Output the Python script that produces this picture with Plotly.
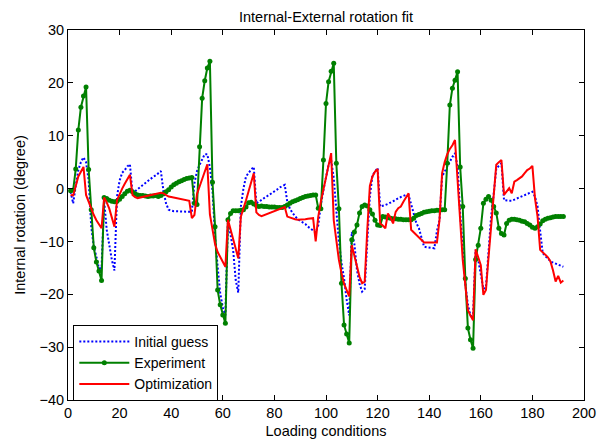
import plotly.graph_objects as go

loading = list(range(1, 193))

initial_guess = [
    -0.6, -2.8, 0.5, 3.5, 5.0, 5.9, 5.0, 1.6, -7.2, -11.0,
    -12.9, -15.1, -15.0, -2.2, -7.8, -11.0, -13.5, -15.5, -1.5, 1.5,
    3.0, 3.5, 4.2, 4.6, -0.9, -0.5, -0.1, 0.2, 0.6, 1.0,
    1.4, 1.8, 2.2, 2.5, 2.9, 3.3, -0.5, -2.8, -4.0, -4.2,
    -4.3, -4.3, -4.3, -4.3, -4.3, -4.4, -4.4, -4.4,
    1.0, 3.3, 4.5, 5.5, 6.5, 6.5, 4.0, -0.3, -9.1, -14.8,
    -19.8, -22.5, -24.0, -5.9, -9.0, -11.6, -17.3, -19.7, -3.4, 0.0,
    2.3, 3.0, 3.6, 4.1, -2.8, -2.5, -2.1, -1.8, -1.5, -1.2,
    -0.8, -0.5, -0.2, 0.2, 0.5, 0.7, -2.5, -3.8, -4.6, -5.3,
    -5.8, -6.1, -6.4, -6.7, -7.2, -7.6, -8.0, -8.3,
    -7.0, -3.0, -0.3, 2.3, 4.5, 5.4, 2.0, -4.1, -10.0, -14.0,
    -17.0, -21.0, -24.0, -8.2, -10.5, -15.4, -18.0, -19.5, -19.0, -10.0,
    -1.5, 2.5, 3.2, 3.9, -3.4, -3.3, -3.1, -2.9, -2.7, -2.4,
    -2.1, -1.8, -1.6, -1.4, -1.2, -1.2, -3.0, -4.5, -6.5, -7.5,
    -9.5, -11.0, -11.1, -11.2, -11.3, -11.3, -8.0, -5.9,
    2.3, 3.3, 4.1, 5.2, 6.0, 6.7, 4.1, -4.7, -12.0, -18.0,
    -22.0, -24.0, -24.5, -11.6, -13.5, -16.0, -19.0, -18.6, -12.0, -5.3,
    -1.0, 3.8, 4.3, 4.8, -2.2, -2.3, -2.3, -2.3, -2.1, -1.9,
    -1.7, -1.5, -1.3, -1.1, -0.9, -0.6, -1.5, -3.4, -8.0, -12.2,
    -12.8, -13.2, -13.8, -14.0, -14.2, -14.4, -14.6, -14.8,
]

experiment = [
    -0.4, -0.3, 3.7, 11.1, 15.4, 17.5, 19.2, 3.6, -4.0, -11.2,
    -13.9, -15.6, -17.4, -1.7, -1.9, -2.2, -2.4, -2.5, -2.4, -2.0,
    -1.5, -1.0, -0.5, -0.3, -0.6, -1.0, -1.2, -1.3, -1.3, -1.4,
    -1.5, -1.4, -1.4, -1.3, -1.5, -1.3, -1.0, -0.6, -0.2, 0.3,
    0.7, 1.0, 1.3, 1.5, 1.7, 1.9, 2.0, 2.1,
    -2.8, -3.0, 7.9, 17.1, 20.4, 22.8, 24.1, 1.2, -7.2, -19.2,
    -22.0, -23.9, -25.5, -5.9, -4.7, -4.2, -4.2, -4.2, -4.1, -4.0,
    -3.5, -2.7, -2.6, -2.9, -3.2, -3.4, -3.3, -3.4, -3.4, -3.5,
    -3.5, -3.5, -3.6, -3.6, -3.6, -3.4, -3.1, -2.8, -2.5, -2.3,
    -2.1, -1.9, -1.7, -1.5, -1.4, -1.3, -1.2, -1.2,
    -3.7, -3.8, 5.4, 16.1, 20.2, 22.2, 23.7, 4.8, -3.8, -17.9,
    -25.8, -27.5, -29.2, -9.7, -8.2, -6.9, -4.6, -3.4, -3.1, -3.3,
    -4.0, -4.8, -6.0, -6.9, -7.0, -5.3, -5.4, -5.5, -5.6, -5.7,
    -5.7, -5.8, -5.8, -5.9, -5.9, -5.9, -5.9, -5.6, -5.1, -4.9,
    -4.7, -4.5, -4.4, -4.3, -4.2, -4.2, -4.1, -4.1,
    -4.0, -4.0, 4.8, 15.8, 19.0, 20.5, 22.1, 4.1, -3.4, -17.0,
    -26.4, -28.6, -30.2, -13.4, -10.7, -7.5, -2.8, -2.0, -1.5, -2.2,
    -3.4, -4.6, -7.5, -8.5, -8.8, -6.6, -6.0, -5.8, -5.8, -5.9,
    -6.0, -6.2, -6.3, -6.6, -6.9, -7.3, -7.5, -7.2, -6.7, -6.1,
    -5.8, -5.6, -5.5, -5.4, -5.3, -5.3, -5.3, -5.3,
]

optimization = [
    -1.2, -1.3, 0.5, 2.3, 3.2, 4.1, -1.2, -2.5, -4.0, -5.0,
    -6.0, -6.8, -7.5, -1.7, -2.6, -3.8, -5.3, -7.2, -2.2, -1.0,
    0.0, 0.9, 1.8, 2.6, -1.2, -1.6, -1.8, -1.7, -1.6, -1.5,
    -1.4, -1.3, -1.2, -1.1, -1.0, -0.8, -0.9, -1.2, -1.5, -1.6,
    -1.7, -1.8, -1.9, -2.0, -2.1, -2.2, -2.3, -5.6,
    -5.0, -1.0, 0.4, 1.8, 2.8, 4.6, -4.9, -8.0, -10.5, -12.0,
    -12.9, -14.0, -14.8, -5.9, -7.8, -9.5, -11.3, -13.2, -5.3, -3.5,
    -2.2, -0.5, 1.2, 2.9, -4.5, -5.0, -5.2, -5.0, -4.8, -4.6,
    -4.4, -4.2, -4.0, -3.8, -3.6, -3.5, -5.3, -5.5, -5.7, -5.8,
    -5.9, -5.9, -5.8, -5.8, -5.7, -5.7, -5.6, -10.0,
    -5.3, -2.5, -0.3, 2.3, 4.5, 6.7, -6.0, -10.0, -13.5, -16.0,
    -18.0, -19.2, -20.4, -10.7, -12.9, -14.8, -16.7, -17.9, -17.6, -7.8,
    0.5, 2.3, 3.2, 3.7, -6.6, -7.0, -7.5, -4.7, -5.5, -6.6,
    -4.4, -3.7, -3.4, -2.5, -1.7, -0.9, -7.8, -8.3, -8.8, -9.3,
    -9.8, -10.2, -10.2, -10.2, -10.2, -10.2, -10.2, -5.9,
    2.9, 5.0, 6.5, 7.5, 8.2, 9.2, 0.4, -6.0, -13.5, -19.0,
    -23.0, -24.0, -24.9, -11.5, -13.0, -14.5, -20.1, -19.2, -13.0, -7.2,
    -2.0, 4.5, 5.0, 5.4, -1.2, -0.5, 0.1, -0.9, 1.3, 1.6,
    1.9, 2.3, 2.9, 3.5, 3.8, 4.3, -1.8, -5.3, -11.6, -12.0,
    -12.5, -13.0, -13.8, -15.5, -17.6, -16.5, -17.8, -17.4,
]

x_ticks = [0, 20, 40, 60, 80, 100, 120, 140, 160, 180, 200]
y_ticks = [-40, -30, -20, -10, 0, 10, 20, 30]

FONT = "Liberation Sans, Arial, sans-serif"

fig = go.Figure()
fig.add_trace(go.Scatter(
    x=loading, y=initial_guess, mode="lines", name="Initial guess",
    line=dict(color="rgb(0,0,255)", width=2, dash="2px,2px"),
))
fig.add_trace(go.Scatter(
    x=loading, y=experiment, mode="lines+markers", name="Experiment",
    line=dict(color="rgb(0,128,0)", width=2),
    marker=dict(color="rgb(0,128,0)", size=5),
))
fig.add_trace(go.Scatter(
    x=loading, y=optimization, mode="lines", name="Optimization",
    line=dict(color="rgb(255,0,0)", width=2),
))

axis_common = dict(
    showline=True, linecolor="black", linewidth=1, mirror="ticks",
    ticks="inside", ticklen=5, tickcolor="black", tickwidth=1,
    showgrid=False, zeroline=False, automargin=False,
    tickfont=dict(family=FONT, size=14.5, color="black"),
)

# page body has an 8px margin, so the figure is sized to fit the 611x441 window
fig.update_layout(
    width=603, height=433,
    margin=dict(l=60, r=27, t=22, b=41),
    paper_bgcolor="white", plot_bgcolor="white",
    font=dict(family=FONT, size=14.5, color="black"),
    title=dict(text="Internal-External rotation fit", x=0.5, xref="paper",
               xanchor="center", y=1 - 8.5 / 433, yref="container",
               yanchor="middle", font=dict(family=FONT, size=14.5, color="black")),
    xaxis=dict(range=[0, 200], tickvals=x_ticks,
               title=dict(text="Loading conditions", standoff=5,
                          font=dict(family=FONT, size=14.5)),
               **axis_common),
    yaxis=dict(range=[-40, 30], tickvals=y_ticks,
               title=dict(text="Internal rotation (degree)", standoff=10,
                          font=dict(family=FONT, size=14.5)),
               **axis_common),
    legend=dict(x=0.0103, y=0.1, xanchor="left", yanchor="middle",
                bgcolor="white", bordercolor="black", borderwidth=1,
                font=dict(family=FONT, size=14), itemwidth=50,
                tracegroupgap=0),
    showlegend=True,
)

fig.write_html("out.html")
